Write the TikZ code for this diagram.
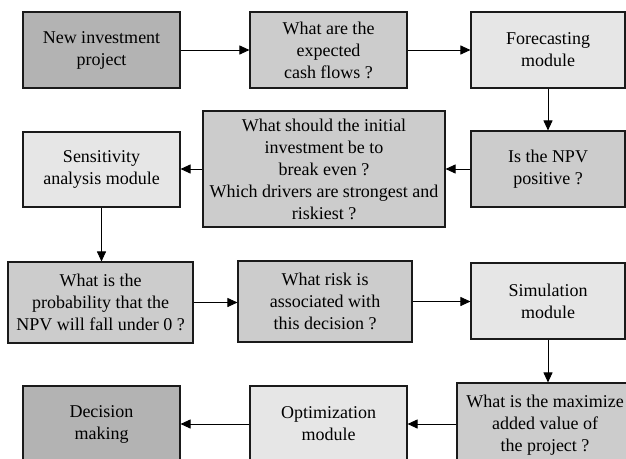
\documentclass[tikz,border=0pt]{standalone}
\usepackage{fontspec}
\setmainfont{Liberation Serif}
\usetikzlibrary{arrows.meta}
\definecolor{darkbox}{HTML}{B3B3B3}
\definecolor{midbox}{HTML}{CCCCCC}
\definecolor{lightbox}{HTML}{E6E6E6}
\definecolor{edge}{HTML}{1A1A1A}
\tikzset{
  box/.style={draw=edge, line width=1.1pt, rectangle, inner sep=0pt, align=center,
    font=\fontsize{18}{22}\selectfont},
  startbox/.style={box, fill=darkbox},
  qbox/.style={box, fill=midbox},
  modbox/.style={box, fill=lightbox},
  flow/.style={draw=black, line width=0.9pt, -{Triangle[length=10pt,width=9pt]}}
}
\begin{document}
\begin{tikzpicture}[x=1pt,y=-1pt]
\clip (0,0) rectangle (626,458);
\fill[white] (0,0) rectangle (626,458);
% row 1
\node[startbox, minimum width=157pt, minimum height=76pt] (newproj) at (101.5,50) {New investment\\project};
\node[qbox, minimum width=157pt, minimum height=76pt] (cash) at (328.5,50) {What are the\\expected\\cash flows ?};
\node[modbox, minimum width=154pt, minimum height=76pt] (forecast) at (548,50) {Forecasting\\module};
% row 2
\node[qbox, minimum width=154pt, minimum height=76pt] (npv) at (548,169) {Is the NPV\\positive ?};
\node[qbox, minimum width=242pt, minimum height=116pt] (breakeven) at (324,169) {What should the initial\\investment be to\\break even ?\\Which drivers are strongest and\\riskiest ?};
\node[modbox, minimum width=157pt, minimum height=75pt] (sens) at (101.5,169.5) {Sensitivity\\analysis module};
% row 3
\node[qbox, minimum width=185pt, minimum height=81pt] (prob) at (100.5,302.5) {What is the\\probability that the\\NPV will fall under 0 ?};
\node[qbox, minimum width=174pt, minimum height=81pt] (risk) at (325,301.5) {What risk is\\associated with\\this decision ?};
\node[modbox, minimum width=154pt, minimum height=76pt] (sim) at (548,301) {Simulation\\module};
% row 4
\node[qbox, minimum width=176pt, minimum height=84pt] (maxim) at (545,425) {What is the maximize\\added value of\\the project ?};
\node[modbox, minimum width=157pt, minimum height=76pt] (opt) at (328.5,424) {Optimization\\module};
\node[startbox, minimum width=157pt, minimum height=76pt] (decision) at (101.5,424) {Decision\\making};
% connectors
\draw[flow] (newproj.east) -- (cash.west);
\draw[flow] (cash.east) -- (forecast.west);
\draw[flow] (forecast.south) -- (npv.north);
\draw[flow] (npv.west) -- (breakeven.east);
\draw[flow] (breakeven.west) -- (breakeven.west -| sens.east);
\draw[flow] (sens.south) -- (sens.south |- prob.north);
\draw[flow] (prob.east) -- (prob.east -| risk.west);
\draw[flow] (risk.east) -- (risk.east -| sim.west);
\draw[flow] (sim.south) -- (sim.south |- maxim.north);
\draw[flow] (opt.east -| maxim.west) -- (opt.east);
\draw[flow] (opt.west) -- (decision.east);
\end{tikzpicture}
\end{document}
